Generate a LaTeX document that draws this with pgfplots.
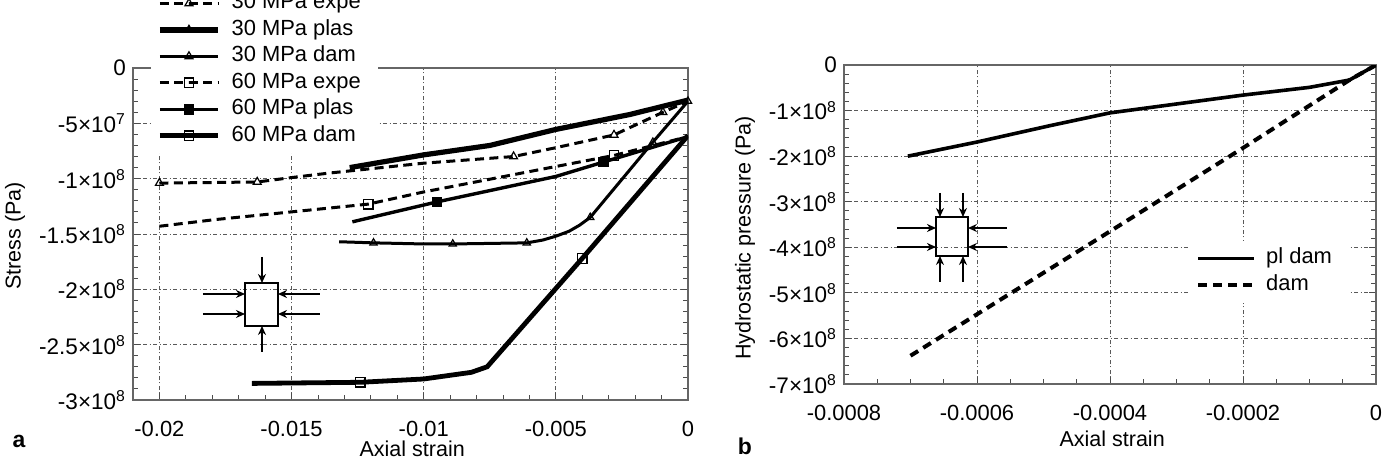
\documentclass[border=0pt]{standalone}
\usepackage{fontspec}
\setmainfont{Liberation Sans}
\usepackage{pgfplots}
\pgfplotsset{compat=1.18}
\usetikzlibrary{arrows.meta}

\pgfplotsset{
  base/.style={
    scale only axis,
    axis line style={black!60, line width=0.6bp},
    grid=major,
    major grid style={black!65, line width=0.45bp, dash pattern=on 2.2bp off 1.1bp on 0.6bp off 1.1bp},
    tick style={black!70, line width=0.5bp},
    major tick length=3.5bp, minor tick length=2.5bp,
    xtick pos=lower, ytick pos=both,
    scaled x ticks=false, scaled y ticks=false,
    xticklabel style={font=\fontsize{11}{13}\selectfont, anchor=base, yshift=-18bp, inner sep=0.5bp},
    yticklabel style={font=\fontsize{11.3}{13}\selectfont},
    label style={font=\fontsize{10.8}{13}\selectfont, inner sep=0.5bp},
    legend cell align=left,
  },
  dashA/.style={dash pattern=on 4.5bp off 2.7bp},
}

\begin{document}
\begin{tikzpicture}
% ---------------- left panel ----------------
\begin{axis}[base,
  at={(66.5bp,-200bp)}, anchor=south west,
  width=277.5bp, height=166bp,
  xmin=-0.021, xmax=0, ymin=-3e8, ymax=0,
  xtick={-0.02,-0.015,-0.01,-0.005,0},
  xticklabels={-0.02,-0.015,-0.01,-0.005,0},
  ytick={-3e8,-2.5e8,-2e8,-1.5e8,-1e8,-5e7,0},
  yticklabels={-3×10\textsuperscript{8},-2.5×10\textsuperscript{8},-2×10\textsuperscript{8},-1.5×10\textsuperscript{8},-1×10\textsuperscript{8},-5×10\textsuperscript{7},0},
  minor x tick num=4, minor y tick num=4,
  xlabel={Axial strain}, ylabel={Stress (Pa)},
  xlabel style={at={(axis description cs:0.503,-0.1476)}, anchor=center},
  ylabel style={at={(axis description cs:-0.2126,0.494)}, anchor=center},
  legend image code/.code={\draw[mark repeat=2,mark phase=2,#1] plot coordinates {(0bp,0bp) (14.5bp,0bp) (29bp,0bp)};},
  legend style={at={(axis description cs:0.0324,1.2485)}, anchor=north west, draw=none, fill=white,
    font=\fontsize{11}{13}\selectfont, inner xsep=3bp, inner ysep=3bp, row sep=1.75bp,
    nodes={inner ysep=1bp, inner xsep=5.5bp, text height=7.5bp, text depth=2bp}},
]
\addlegendimage{black, line width=1.5bp, dashA, mark=triangle, mark size=2.3bp, mark options={solid, fill=white, line width=0.6bp}}
\addlegendentry{30 MPa expe}
\addlegendimage{black, line width=2.6bp, mark=triangle*, mark size=2.3bp, mark options={solid, line width=0.6bp}}
\addlegendentry{30 MPa plas}
\addlegendimage{black, line width=1.5bp, mark=triangle, mark size=2.3bp, mark options={solid, fill=white, line width=0.6bp}}
\addlegendentry{30 MPa dam}
\addlegendimage{black, line width=1.5bp, dashA, mark=square, mark size=2.4bp, mark options={solid, fill=white, line width=0.6bp}}
\addlegendentry{60 MPa expe}
\addlegendimage{black, line width=1.6bp, mark=square*, mark size=2.4bp, mark options={solid, line width=0.6bp}}
\addlegendentry{60 MPa plas}
\addlegendimage{black, line width=2.4bp, mark=square, mark size=2.4bp, mark options={solid, fill=white, line width=0.6bp}}
\addlegendentry{60 MPa dam}

% 30 MPa expe
\addplot[forget plot, black, line width=1.5bp, dashA] coordinates {
 (-0.0200,-1.04e8) (-0.0163,-1.03e8) (-0.0150,-0.99e8) (-0.0136,-0.95e8) (-0.0100,-0.86e8)
 (-0.0066,-0.80e8) (-0.0050,-0.72e8) (-0.0028,-0.605e8) (-0.00095,-0.40e8) (0,-0.30e8)};
\addplot[forget plot, black, only marks, mark=triangle, mark size=2.3bp, mark options={fill=white, line width=0.6bp}] coordinates {
 (-0.0200,-1.04e8) (-0.0163,-1.03e8) (-0.0066,-0.80e8) (-0.0028,-0.605e8) (-0.00095,-0.40e8)};
% 60 MPa expe
\addplot[forget plot, black, line width=1.5bp, dashA] coordinates {
 (-0.0200,-1.43e8) (-0.0179,-1.37e8) (-0.0150,-1.30e8) (-0.0121,-1.23e8) (-0.0100,-1.12e8)
 (-0.0050,-0.89e8) (-0.0028,-0.79e8) (0,-0.62e8)};
\addplot[forget plot, black, only marks, mark=square, mark size=2.4bp, mark options={fill=white, line width=0.6bp}] coordinates {
 (-0.0121,-1.23e8) (-0.0028,-0.79e8)};
% 30 MPa plas
\addplot[forget plot, black, line width=2.6bp] coordinates {
 (-0.0128,-0.90e8) (-0.0100,-0.785e8) (-0.0075,-0.70e8) (-0.0050,-0.555e8) (-0.0022,-0.42e8) (0,-0.29e8)};
% 60 MPa plas
\addplot[forget plot, black, line width=1.7bp] coordinates {
 (-0.0127,-1.39e8) (-0.0095,-1.21e8) (-0.0050,-0.98e8) (-0.0032,-0.85e8) (0,-0.62e8)};
\addplot[forget plot, black, only marks, mark=square*, mark size=2.4bp] coordinates {
 (-0.0095,-1.21e8) (-0.0032,-0.85e8)};
% 30 MPa dam
\addplot[forget plot, black, line width=1.5bp] coordinates {
 (-0.0132,-1.57e8) (-0.0119,-1.58e8) (-0.0100,-1.59e8) (-0.0089,-1.59e8) (-0.0061,-1.58e8)
 (-0.0055,-1.555e8) (-0.0050,-1.52e8) (-0.0045,-1.475e8) (-0.0041,-1.42e8) (-0.0037,-1.35e8)
 (-0.00133,-0.67e8) (0,-0.30e8)};
\addplot[forget plot, black, only marks, mark=triangle, mark size=2.1bp, mark options={fill=white, line width=0.6bp}] coordinates {
 (-0.0119,-1.58e8) (-0.0089,-1.59e8) (-0.0061,-1.58e8) (-0.0037,-1.35e8) (-0.00133,-0.67e8) (0,-0.30e8)};
% 60 MPa dam
\addplot[forget plot, black, line width=2.4bp] coordinates {
 (-0.0165,-2.85e8) (-0.0124,-2.84e8) (-0.0100,-2.81e8) (-0.0082,-2.75e8) (-0.0076,-2.70e8)
 (-0.0040,-1.72e8) (0,-0.61e8)};
\addplot[forget plot, black, only marks, mark=square, mark size=2.4bp, mark options={fill=white, line width=0.6bp}] coordinates {
 (-0.0124,-2.84e8) (-0.0040,-1.72e8)};
\end{axis}

% ---------------- right panel ----------------
\begin{axis}[base,
  at={(422bp,-192bp)}, anchor=south west,
  width=266bp, height=159.5bp,
  xmin=-0.0008, xmax=0, ymin=-7e8, ymax=0,
  xtick={-0.0008,-0.0006,-0.0004,-0.0002,0},
  xticklabels={-0.0008,-0.0006,-0.0004,-0.0002,0},
  ytick={-7e8,-6e8,-5e8,-4e8,-3e8,-2e8,-1e8,0},
  yticklabels={-7×10\textsuperscript{8},-6×10\textsuperscript{8},-5×10\textsuperscript{8},-4×10\textsuperscript{8},-3×10\textsuperscript{8},-2×10\textsuperscript{8},-1×10\textsuperscript{8},0},
  minor x tick num=3, minor y tick num=4,
  xlabel={Axial strain}, ylabel={Hydrostatic pressure (Pa)},
  xlabel style={at={(axis description cs:0.504,-0.172)}, anchor=center},
  ylabel style={at={(axis description cs:-0.186,0.458)}, anchor=center},
  legend image code/.code={\draw[#1] (0bp,0bp) -- (28bp,0bp);},
  legend style={at={(axis description cs:0.650,0.45)}, anchor=north west, draw=none, fill=white,
    font=\fontsize{11}{13}\selectfont, inner xsep=3bp, inner ysep=3bp, row sep=2bp,
    nodes={inner ysep=1bp, inner xsep=5bp, text height=7.5bp, text depth=2bp}},
]
\addplot[black, line width=1.8bp] coordinates {
 (-0.000704,-2.00e8) (-0.0006,-1.69e8) (-0.00049,-1.33e8) (-0.0004,-1.05e8) (-0.0002,-0.66e8)
 (-0.0001,-0.49e8) (-0.00004,-0.33e8) (0,0)};
\addlegendentry{pl dam}
\addplot[black, line width=2bp, dash pattern=on 4.5bp off 3bp] coordinates {
 (-0.0007,-6.38e8) (-0.0004,-3.65e8) (-0.0002,-1.82e8) (-0.00004,-0.33e8) (0,0)};
\addlegendentry{dam}
\end{axis}

% ---------------- insets and panel letters (pixel frame) ----------------
\begin{scope}[x=0.5bp, y=-0.5bp, line width=0.75bp, >={Stealth[length=4.5bp,width=4bp]}]
  % left inset
  \draw (245,283) rectangle (278,326);
  \draw[->] (262,257) -- (262,283);
  \draw[->] (262,352) -- (262,326);
  \draw[->] (203,294) -- (245,294);
  \draw[->] (203,314) -- (245,314);
  \draw[->] (320,294) -- (278,294);
  \draw[->] (320,314) -- (278,314);
  % right inset
  \draw (936,217) rectangle (968,256);
  \draw[->] (940,193) -- (940,217);
  \draw[->] (963,193) -- (963,217);
  \draw[->] (940,282) -- (940,256);
  \draw[->] (963,282) -- (963,256);
  \draw[->] (897,228) -- (936,228);
  \draw[->] (897,247) -- (936,247);
  \draw[->] (1007,228) -- (968,228);
  \draw[->] (1007,247) -- (968,247);
  % panel letters
  \node[font=\bfseries\fontsize{11.5}{13}\selectfont] at (19,441) {a};
  \node[font=\bfseries\fontsize{11.5}{13}\selectfont] at (745,446) {b};
\end{scope}

\pgfresetboundingbox
\path[use as bounding box] (0bp,0bp) rectangle (696bp,-231bp);
\end{tikzpicture}
\end{document}
